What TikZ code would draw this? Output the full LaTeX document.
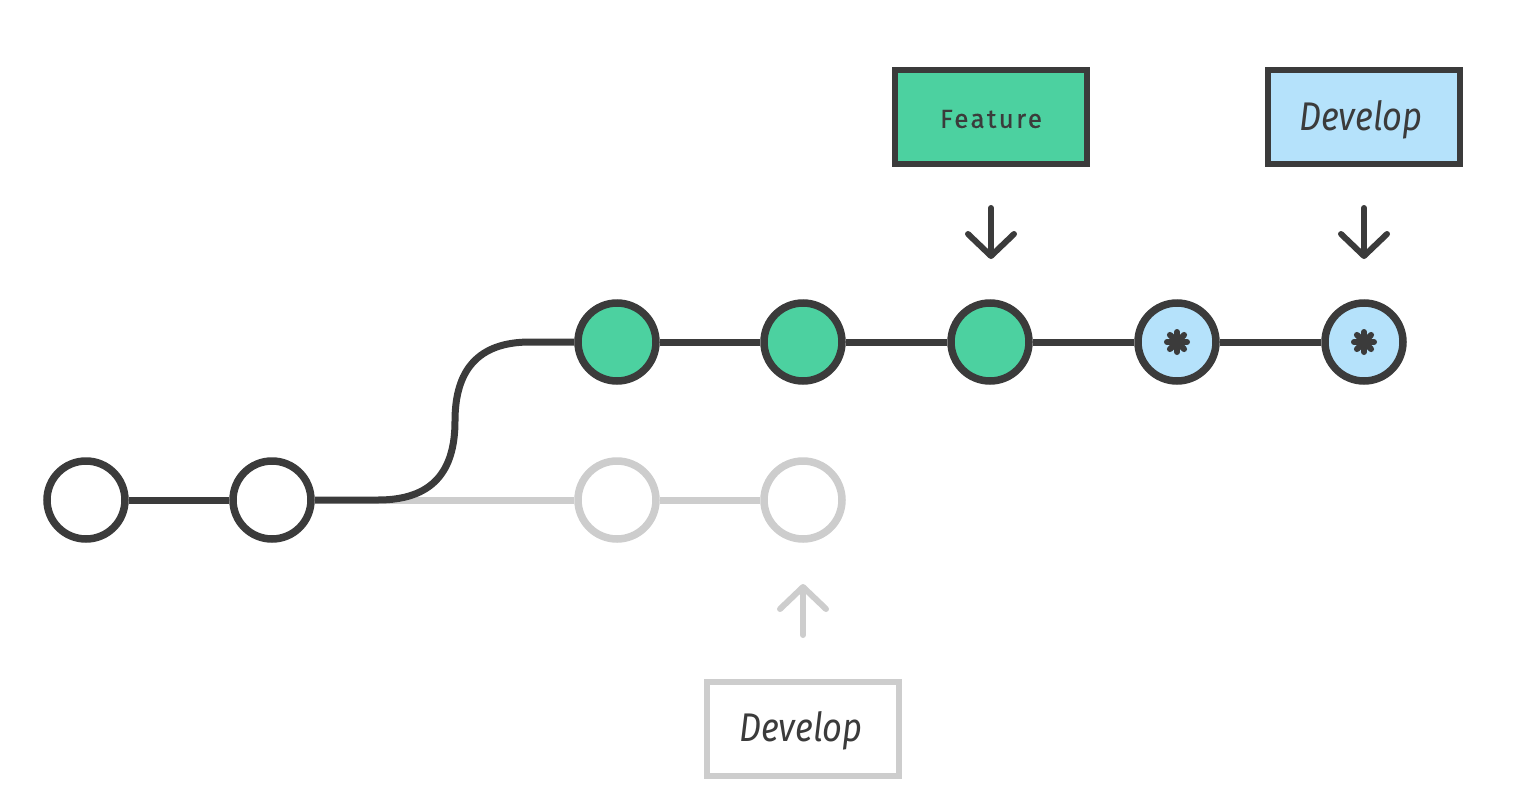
\documentclass[tikz,border=0pt]{standalone}
\usepackage{fontspec}
\setmainfont{Fira Sans}
\newfontfamily\featfont[LetterSpace=9,FakeBold=0.6]{Fira Sans}
\newfontfamily\devfont[FakeStretch=0.86]{Fira Sans Italic}
\usetikzlibrary{arrows.meta,calc}
\definecolor{dark}{HTML}{3B3B3B}
\definecolor{gfill}{HTML}{4CD1A0}
\definecolor{bfill}{HTML}{B5E2FB}
\definecolor{greyc}{HTML}{CDCDCD}
\tikzset{
  commit/.style={circle, draw=dark, line width=7.5pt, minimum size=78pt, inner sep=0pt, fill=white},
  gcommit/.style={commit, fill=gfill},
  bcommit/.style={commit, fill=bfill},
  oldcommit/.style={commit, draw=greyc},
  edge/.style={draw=dark, line width=7pt},
  oldedge/.style={draw=greyc, line width=7pt},
  label/.style={draw=dark, line width=6.5pt, minimum width=192pt, minimum height=94pt, inner sep=0pt},
  pointer/.style={line width=6pt, line cap=round, -{Straight Barb[length=22pt,width=46pt,line width=6pt,round]}},
  star/.style={line width=6pt, line cap=round, draw=dark}
}
\begin{document}
\begin{tikzpicture}[x=1pt,y=-1pt]
\useasboundingbox (0,0) rectangle (1534,798);
% grey old branch
\coordinate (fork) at (378,500);
\node[oldcommit] (o1) at (617,500) {};
\node[oldcommit] (o2) at (803,500) {};
\draw[oldedge] (fork) -- (o1) (o1) -- (o2);
% main commits
\node[commit] (c1) at (86,500) {};
\node[commit] (c2) at (272,500) {};
\node[gcommit] (f1) at (617,342) {};
\node[gcommit] (f2) at (803,342) {};
\node[gcommit] (f3) at (990,342) {};
\node[bcommit] (d1) at (1177,342) {};
\node[bcommit] (d2) at (1364,342) {};
\coordinate (top) at (530,342);
\draw[edge] (c1) -- (c2);
\draw[edge] (c2) -- (fork) .. controls (432,500) and (455,472) .. (455,421) .. controls (455,370) and (478,342) .. (top) -- (f1);
\draw[edge] (f1) -- (f2);
\draw[edge] (f2) -- (f3);
\draw[edge] (f3) -- (d1);
\draw[edge] (d1) -- (d2);
% asterisks
\foreach \n in {d1,d2}{
  \foreach \a in {0,45,90,135}{
    \draw[star] ($(\n)+(\a:10)$) -- ($(\n)+(\a+180:10)$);
  }
}
% labels
\node[label, fill=gfill] (feat) at (991,117) {};
\node[text=dark, font=\featfont\fontsize{26}{30}\selectfont] at (991,119) {Feature};
\node[label, fill=bfill] (dev) at (1364,117) {};
\node[text=dark, font=\devfont\fontsize{40}{44}\selectfont] at (1361,120) {Develop};
\node[label, draw=greyc, fill=white] (olddev) at (803,729) {};
\node[text=dark, font=\devfont\fontsize{40}{44}\selectfont] at (801,731) {Develop};
% pointers
\coordinate (fa) at (991,208);
\coordinate (fb) at (991,259);
\draw[pointer, draw=dark] (fa) -- (fb);
\coordinate (da) at (1364,208);
\coordinate (db) at (1364,259);
\draw[pointer, draw=dark] (da) -- (db);
\coordinate (oa) at (803,635);
\coordinate (ob) at (803,584);
\draw[pointer, draw=greyc] (oa) -- (ob);
\end{tikzpicture}
\end{document}
